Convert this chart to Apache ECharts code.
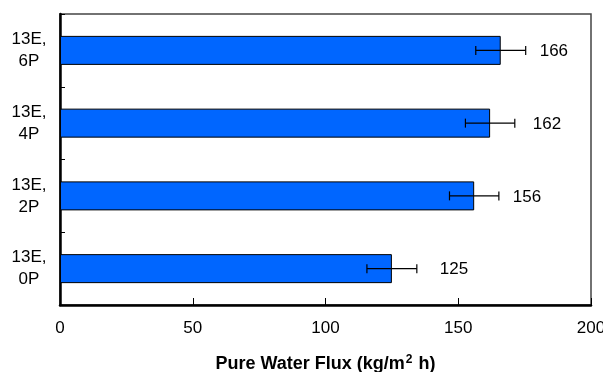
<!DOCTYPE html>
<html>
<head>
<meta charset="utf-8">
<script src="https://cdn.jsdelivr.net/npm/echarts@6/dist/echarts.min.js"></script>
<style>html,body{margin:0;padding:0;background:#fff}#c{width:603px;height:372px}</style>
</head>
<body>
<div id="c"></div>
<script>
var categories = ['13E, 0P', '13E, 2P', '13E, 4P', '13E, 6P'];
var fluxValues = [125, 156, 162, 166];
var fluxErrors = [9.4, 9.3, 9.3, 9.4];
var xTicks = [0, 50, 100, 150, 200];

// label pixel gaps after the error bar (style only)
var labelGaps = [23, 14, 18, 14];

var FONT = 'Liberation Sans, Arial, sans-serif';
var chart = echarts.init(document.getElementById('c'), null, {renderer: 'canvas'});

var errData = categories.map(function (c, i) {
  return [i, fluxValues[i] - fluxErrors[i], fluxValues[i] + fluxErrors[i], fluxValues[i], labelGaps[i]];
});

chart.setOption({
  animation: false,
  backgroundColor: '#fff',
  grid: {left: 60, right: 12, top: 14, bottom: 67, containLabel: false, outerBoundsMode: 'none',
         show: true, borderColor: '#444', borderWidth: 1.5, backgroundColor: 'transparent'},
  xAxis: {
    type: 'value', min: xTicks[0], max: xTicks[xTicks.length - 1], interval: 50,
    axisLine: {show: true, lineStyle: {color: '#000', width: 2.5}},
    axisTick: {show: true, inside: true, length: 7, lineStyle: {color: '#000', width: 1}},
    splitLine: {show: false},
    axisLabel: {color: '#000', fontFamily: FONT, fontSize: 17, margin: 15},
    name: '{a|Pure Water Flux (kg/m}{s|2}{a| h)}',
    nameLocation: 'middle', nameGap: 49,
    nameTextStyle: {
      rich: {
        a: {fontFamily: FONT, fontSize: 18, fontWeight: 'bold', color: '#000', lineHeight: 21},
        s: {fontFamily: FONT, fontSize: 12, fontWeight: 'bold', color: '#000', lineHeight: 21, verticalAlign: 'top', padding: [0, 1, 8, 1]}
      }
    }
  },
  yAxis: {
    type: 'category', data: categories,
    axisLine: {show: true, lineStyle: {color: '#000', width: 2.5}},
    axisTick: {show: true, inside: true, length: 5, lineStyle: {color: '#000', width: 1}},
    axisLabel: {
      color: '#000', fontFamily: FONT, fontSize: 17, lineHeight: 22, align: 'center', margin: 31,
      formatter: function (v) { return v.replace(', ', ',\n'); }
    },
    splitLine: {show: false}
  },
  series: [
    {
      type: 'bar', data: fluxValues, barWidth: 29,
      itemStyle: {color: '#0066FF', borderColor: '#000', borderWidth: 1},
      z: 2
    },
    {
      type: 'custom', data: errData, z: 3,
      renderItem: function (params, api) {
        var cat = api.value(0);
        var lo = api.coord([api.value(1), cat]);
        var hi = api.coord([api.value(2), cat]);
        var y = lo[1];
        var cap = 4.5;
        return {
          type: 'group',
          children: [
            {type: 'line', shape: {x1: lo[0], y1: y, x2: hi[0], y2: y}, style: {stroke: '#000', lineWidth: 1.2}},
            {type: 'line', shape: {x1: lo[0], y1: y - cap, x2: lo[0], y2: y + cap}, style: {stroke: '#000', lineWidth: 1.2}},
            {type: 'line', shape: {x1: hi[0], y1: y - cap, x2: hi[0], y2: y + cap}, style: {stroke: '#000', lineWidth: 1.2}},
            {type: 'text', x: hi[0] + api.value(4), y: y + 1,
             style: {text: String(api.value(3)), fill: '#000', font: '17px ' + FONT, textAlign: 'left', textVerticalAlign: 'middle'}}
          ]
        };
      }
    }
  ]
});
</script>
</body>
</html>
